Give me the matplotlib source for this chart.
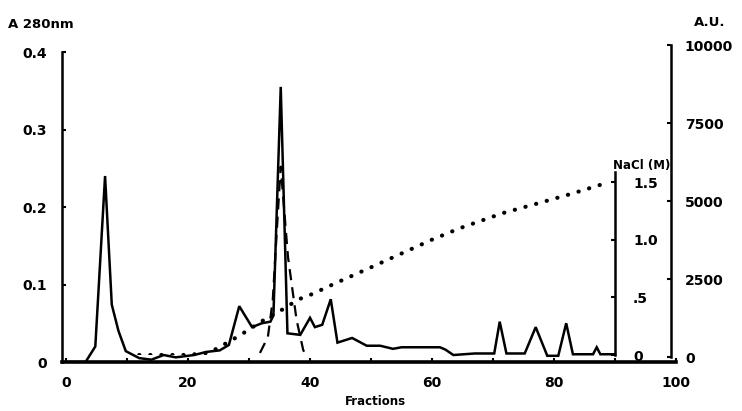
import numpy as np
import matplotlib
matplotlib.use("Agg")
import matplotlib.pyplot as plt
from matplotlib.ticker import MultipleLocator

# ── Data ────────────────────────────────────────────────────────────────────

# A280 absorbance (solid line, left axis)
a280_frac = [0, 3.2, 4.8, 6.4, 7.5, 8.6, 9.8, 12, 14, 16, 18, 21, 23, 25.2,
             26.7, 28.4, 30.5, 32.1, 33.5, 34.0, 35.2, 36.3, 38.4, 40.0, 40.8,
             42.0, 43.4, 44.5, 46.9, 49.3, 51.5, 53.6, 55.0, 61.3, 62.2, 63.5,
             67.0, 70.2, 71.1, 72.2, 75.2, 77.0, 78.9, 80.7, 82.0, 83.1, 86.4,
             87.0, 87.6, 90.0]
a280_val = [0, 0, 0.020, 0.240, 0.074, 0.040, 0.014, 0.005, 0.003, 0.009,
            0.006, 0.009, 0.013, 0.015, 0.022, 0.072, 0.045, 0.050, 0.052,
            0.060, 0.355, 0.037, 0.035, 0.057, 0.045, 0.048, 0.081, 0.025,
            0.031, 0.021, 0.021, 0.017, 0.019, 0.019, 0.016, 0.009, 0.011,
            0.011, 0.052, 0.011, 0.011, 0.045, 0.008, 0.008, 0.050, 0.010,
            0.010, 0.019, 0.010, 0.010]

# Activity in A.U. (dashed line, right axis)
au_frac = [31.8, 33.1, 33.9, 34.6, 35.2, 36.4, 37.2, 37.8, 38.9, 39.5]
au_val = [130, 640, 1830, 4170, 6100, 3200, 2050, 1190, 220, 0]

# NaCl gradient (dotted line, inner axis)
nacl_frac = [12, 20, 23.5, 25.2, 28.5, 32, 36, 38, 40, 44.5, 50, 55, 60,
             64.6, 71.6, 77.7, 83, 88.5]
nacl_val = [0, 0, 0.02, 0.07, 0.17, 0.29, 0.41, 0.48, 0.52, 0.63, 0.76,
            0.88, 1.0, 1.1, 1.23, 1.32, 1.4, 1.49]

x_ticks = [0, 20, 40, 60, 80, 100]
a280_ticks = [0, 0.1, 0.2, 0.3, 0.4]
a280_labels = ["0", "0.1", "0.2", "0.3", "0.4"]
au_ticks = [0, 2500, 5000, 7500, 10000]
nacl_ticks = [0, 0.5, 1.0, 1.5]
nacl_labels = ["0", ".5", "1.0", "1.5"]

# ── Layout (pixel positions in a 742x411 canvas) ────────────────────────────
W, H = 742, 411
plt.rcParams["font.family"] = "DejaVu Sans"
plt.rcParams["font.weight"] = "bold"

fig = plt.figure(figsize=(W / 100, H / 100), dpi=100)


def box(x0, x1, ytop, ybot):
    return [x0 / W, 1 - ybot / H, (x1 - x0) / W, (ybot - ytop) / H]


LW_AX = 1.8
FS = 10

# --- main A280 axes ---
ax = fig.add_axes(box(62, 676, 52, 362))
ax.plot(a280_frac, a280_val, color="black", lw=1.8, solid_joinstyle="miter")
ax.set_xlim(-0.66, 100)
ax.set_ylim(0, 0.4)
ax.spines[["top", "right"]].set_visible(False)
ax.spines["left"].set_linewidth(LW_AX)
ax.spines["bottom"].set_linewidth(2.6)
ax.set_xticks(x_ticks)
ax.xaxis.set_minor_locator(MultipleLocator(10))
ax.set_yticks(a280_ticks, a280_labels)
ax.tick_params(axis="both", which="both", direction="in", width=1.5,
               labelsize=FS)
ax.tick_params(axis="x", which="both", length=3, pad=10)
ax.tick_params(axis="y", length=3, pad=11)
ax.patch.set_alpha(0)

# --- A.U. axes (right spine) ---
au = fig.add_axes(box(62, 671, 45, 357))
au.plot(au_frac, au_val, color="black", lw=1.6, dashes=(5, 3.2))
au.set_xlim(-0.66, 99.2)
au.set_ylim(0, 10000)
au.patch.set_alpha(0)
for s in ("top", "left", "bottom"):
    au.spines[s].set_visible(False)
au.spines["right"].set_linewidth(LW_AX)
au.set_xticks([])
au.yaxis.tick_right()
au.set_yticks(au_ticks)
au.tick_params(axis="y", direction="in", length=3, width=1.5, pad=10,
               labelsize=FS)

# --- NaCl axes (inner spine at fraction 90) ---
na = fig.add_axes(box(62, 671, 172, 355))
na.plot(nacl_frac, nacl_val, color="black", lw=3.0,
        linestyle=(0, (0.05, 2.6)), dash_capstyle="round")
na.set_xlim(-0.66, 99.2)
na.set_ylim(0, 1.587)
na.patch.set_alpha(0)
for s in ("top", "left", "bottom"):
    na.spines[s].set_visible(False)
na.spines["right"].set_position(("data", 90))
na.spines["right"].set_linewidth(LW_AX)
na.set_xticks([])
na.yaxis.tick_right()
na.set_yticks(nacl_ticks, nacl_labels)
na.tick_params(axis="y", direction="in", length=3, width=1.5, pad=13,
               labelsize=FS)

# --- axis titles ---
fig.text(8 / W, 1 - 24 / H, "A 280nm", fontsize=9.5, fontweight="bold",
         ha="left", va="center")
fig.text(710 / W, 1 - 22 / H, "A.U.", fontsize=9.5, fontweight="bold",
         ha="center", va="center")
fig.text(375 / W, 1 - 401 / H, "Fractions", fontsize=8.5, fontweight="bold",
         ha="center", va="center")
fig.text(670 / W, 1 - 165 / H, "NaCl (M)", fontsize=8.5, fontweight="bold",
         ha="right", va="center")

fig.savefig("out.png", dpi=100)
